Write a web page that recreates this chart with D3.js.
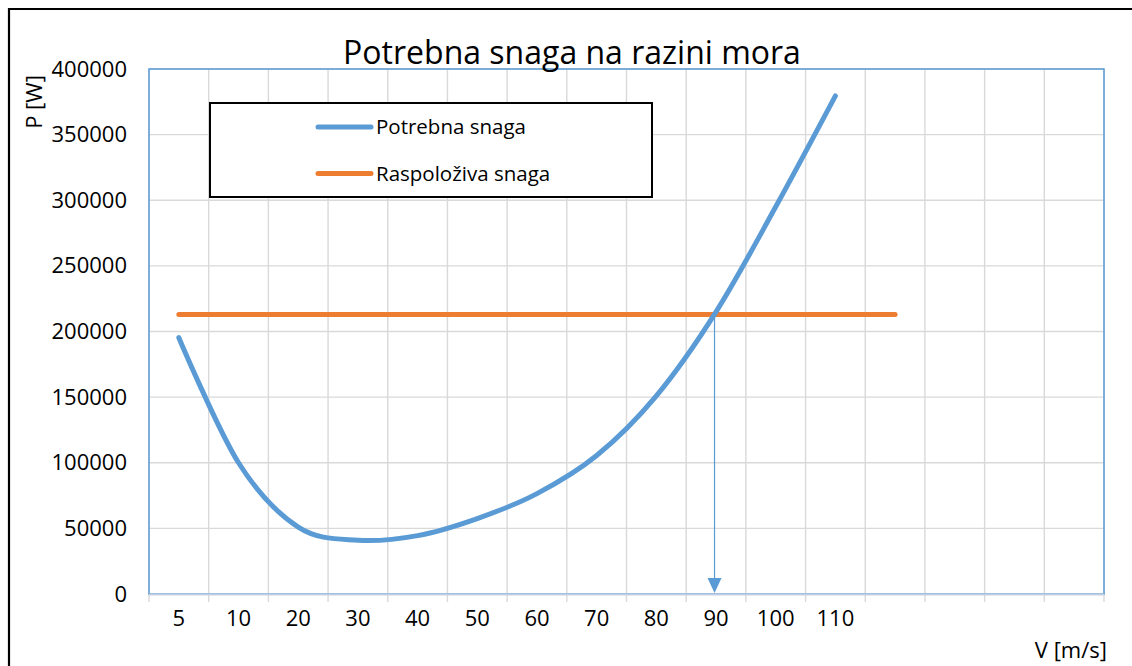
<!DOCTYPE html>
<html>
<head>
<meta charset="utf-8">
<script src="https://cdn.jsdelivr.net/npm/d3@7"></script>
<style>
  body { margin: 0; background: #fff; }
  svg { display: block; font-family: "Open Sans", sans-serif; }
</style>
</head>
<body>
<svg id="chart"></svg>
<script>
const categories = ["5", "10", "20", "30", "40", "50", "60", "70", "80", "90", "100", "110", "", "", "", ""];
const potrebnaSnaga = [195300, 100000, 51000, 41000, 44500, 57500, 76500, 105500, 151000, 215000, 295000, 379500];
const raspolozivaSnaga = [213000, 213000, 213000, 213000, 213000, 213000, 213000, 213000, 213000, 213000, 213000, 213000, 213000];
const yTicks = [0, 50000, 100000, 150000, 200000, 250000, 300000, 350000, 400000];
const arrowCategory = "90";

const width = 1132;
const height = 666;
const blue = "#5B9BD5";
const orange = "#ED7D31";
const grid = "#D9D9D9";

const plot = { left: 149, right: 1104, top: 69, bottom: 594 };

const svg = d3.select("#chart")
  .attr("width", width)
  .attr("height", height);

const x = d3.scaleBand()
  .domain(d3.range(categories.length))
  .range([plot.left, plot.right]);

const y = d3.scaleLinear()
  .domain([0, 400000])
  .range([plot.bottom, plot.top]);

const cx = (i) => x(i) + x.bandwidth() / 2;

// outer chart border (cut by the picture on the right and bottom)
svg.append("path")
  .attr("d", `M9,${height + 5} L9,9 L${width + 5},9`)
  .attr("fill", "none")
  .attr("stroke", "#000")
  .attr("stroke-width", 2.2);

// horizontal gridlines
svg.append("g")
  .selectAll("line")
  .data(yTicks)
  .join("line")
  .attr("x1", plot.left)
  .attr("x2", plot.right)
  .attr("y1", (d) => y(d))
  .attr("y2", (d) => y(d))
  .attr("stroke", grid)
  .attr("stroke-width", 1.4);

// vertical gridlines + tick marks on band edges
const edges = d3.range(categories.length + 1).map((i) => plot.left + i * x.step());
svg.append("g")
  .selectAll("line")
  .data(edges)
  .join("line")
  .attr("x1", (d) => d)
  .attr("x2", (d) => d)
  .attr("y1", plot.top)
  .attr("y2", plot.bottom + 8)
  .attr("stroke", grid)
  .attr("stroke-width", 1.4);

// plot area border
svg.append("rect")
  .attr("x", plot.left)
  .attr("y", plot.top)
  .attr("width", plot.right - plot.left)
  .attr("height", plot.bottom - plot.top)
  .attr("fill", "none")
  .attr("stroke", blue)
  .attr("stroke-width", 1.5);

svg.append("line")
  .attr("x1", plot.left)
  .attr("x2", plot.right)
  .attr("y1", plot.bottom + 0.5)
  .attr("y2", plot.bottom + 0.5)
  .attr("stroke", "#C3D0E4")
  .attr("stroke-width", 2);

// y axis labels
const yAxis = d3.axisLeft(y)
  .tickValues(yTicks)
  .tickFormat(d3.format("d"))
  .tickSize(0)
  .tickPadding(0);

const yG = svg.append("g")
  .attr("transform", `translate(${plot.left - 22},0)`)
  .call(yAxis);
yG.select(".domain").remove();
yG.selectAll("text")
  .attr("font-family", "Open Sans")
  .attr("font-size", 22)
  .attr("fill", "#000");

// x axis labels
const xAxis = d3.axisBottom(x)
  .tickFormat((i) => categories[i])
  .tickSize(0)
  .tickPadding(0);

const xG = svg.append("g")
  .attr("transform", `translate(0,${plot.bottom + 16})`)
  .call(xAxis);
xG.select(".domain").remove();
xG.selectAll("text")
  .attr("font-family", "Open Sans")
  .attr("font-size", 22)
  .attr("fill", "#000");

// series
const line = d3.line()
  .x((d, i) => cx(i))
  .y((d) => y(d))
  .curve(d3.curveCardinal.tension(0));

svg.append("path")
  .datum(raspolozivaSnaga)
  .attr("d", line)
  .attr("fill", "none")
  .attr("stroke", orange)
  .attr("stroke-width", 5)
  .attr("stroke-linecap", "round");

svg.append("path")
  .datum(potrebnaSnaga)
  .attr("d", line)
  .attr("fill", "none")
  .attr("stroke", blue)
  .attr("stroke-width", 5)
  .attr("stroke-linecap", "round")
  .attr("stroke-linejoin", "round");

// arrow from the intersection down to the axis
const ax = cx(categories.indexOf(arrowCategory)) - 1.5;
const ay = y(raspolozivaSnaga[0]);
svg.append("line")
  .attr("x1", ax)
  .attr("x2", ax)
  .attr("y1", ay)
  .attr("y2", plot.bottom - 12)
  .attr("stroke", blue)
  .attr("stroke-width", 1.2);

svg.append("path")
  .attr("d", `M${ax - 7},${plot.bottom - 16} L${ax + 7},${plot.bottom - 16} L${ax},${plot.bottom - 1} Z`)
  .attr("fill", blue);

// title and axis titles
svg.append("text")
  .attr("x", 572)
  .attr("y", 64)
  .attr("text-anchor", "middle")
  .attr("font-size", 32)
  .attr("fill", "#000")
  .text("Potrebna snaga na razini mora");

svg.append("text")
  .attr("transform", "translate(42,102) rotate(-90)")
  .attr("text-anchor", "middle")
  .attr("font-size", 22)
  .attr("fill", "#000")
  .text("P [W]");

svg.append("text")
  .attr("x", 1107)
  .attr("y", 658)
  .attr("text-anchor", "end")
  .attr("font-size", 22)
  .attr("fill", "#000")
  .text("V [m/s]");

// legend
const legendData = [
  { label: "Potrebna snaga", color: blue },
  { label: "Raspoloživa snaga", color: orange }
];

const legend = svg.append("g");

legend.append("rect")
  .attr("x", 210)
  .attr("y", 103)
  .attr("width", 442)
  .attr("height", 94)
  .attr("fill", "#fff")
  .attr("stroke", "#000")
  .attr("stroke-width", 2);

const legendItems = legend.selectAll("g.legend-item")
  .data(legendData)
  .join("g")
  .attr("class", "legend-item")
  .attr("transform", (d, i) => `translate(0, ${127 + i * 46.6})`);

legendItems.append("line")
  .attr("x1", 318)
  .attr("x2", 371)
  .attr("stroke", (d) => d.color)
  .attr("stroke-width", 5)
  .attr("stroke-linecap", "round");

legendItems.append("text")
  .attr("x", 376)
  .attr("y", 7)
  .attr("font-size", 20.5)
  .attr("fill", "#000")
  .text((d) => d.label);
</script>
</body>
</html>
